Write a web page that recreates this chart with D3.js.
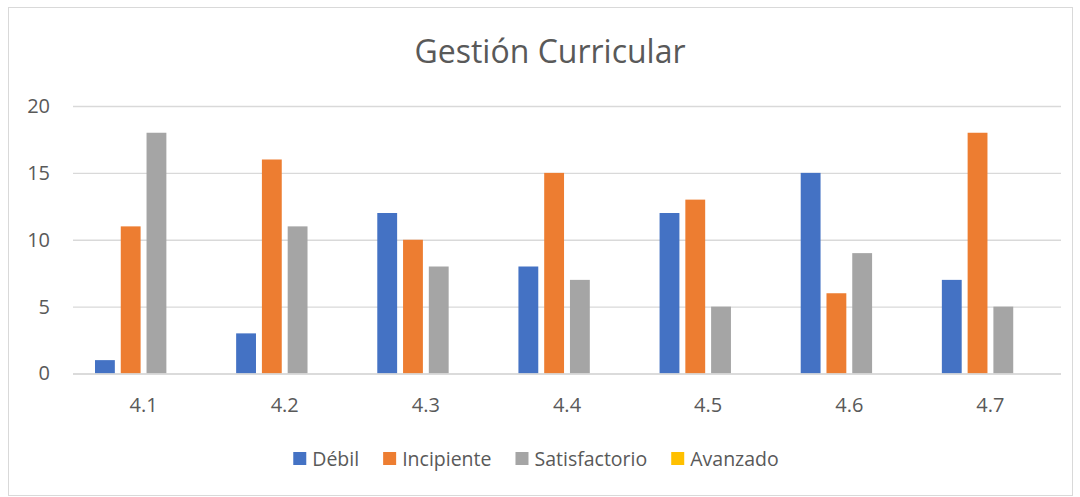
<!DOCTYPE html>
<html>
<head>
<meta charset="utf-8">
<script src="https://cdn.jsdelivr.net/npm/d3@7"></script>
<style>
  body { margin: 0; background: #fff; }
  text { font-family: "Open Sans", "Noto Sans", sans-serif; fill: #595959; }
</style>
</head>
<body>
<script>
// data
var categories = ["4.1", "4.2", "4.3", "4.4", "4.5", "4.6", "4.7"];
var seriesNames = ["Débil", "Incipiente", "Satisfactorio", "Avanzado"];
var debil = [1, 3, 12, 8, 12, 15, 7];
var incipiente = [11, 16, 10, 15, 13, 6, 18];
var satisfactorio = [18, 11, 8, 7, 5, 9, 5];
var avanzado = [0, 0, 0, 0, 0, 0, 0];
var yTicks = [0, 5, 10, 15, 20];

var seriesValues = [debil, incipiente, satisfactorio, avanzado];
var colors = ["#4472C4", "#ED7D31", "#A5A5A5", "#FFC000"];

//Width and height
var w = 1080;
var h = 497;

var svg = d3.select("body")
            .append("svg")
            .attr("width", w)
            .attr("height", h);

// chart border
svg.append("rect")
   .attr("x", 8.5).attr("y", 7.5)
   .attr("width", 1064).attr("height", 488)
   .style("fill", "none")
   .style("stroke", "#D9D9D9")
   .style("stroke-width", 1);

// title
svg.append("text")
   .attr("x", 550)
   .attr("y", 63)
   .attr("text-anchor", "middle")
   .style("font-size", "32px")
   .text("Gestión Curricular");

// scales
var x0 = d3.scaleBand()
           .domain(categories)
           .range([73, 1061])
           .paddingInner(0)
           .paddingOuter(0);

var x1 = d3.scaleBand()
           .domain(seriesNames)
           .range([22, x0.bandwidth() - 22])
           .paddingInner(0.23);

var y = d3.scaleLinear()
          .domain([0, 20])
          .range([373.5, 106]);

// gridlines + y labels
var yAxis = d3.axisLeft(y)
              .tickValues(yTicks)
              .tickSize(-(1061 - 73))
              .tickPadding(23);

var gy = svg.append("g")
            .attr("transform", "translate(73,0)")
            .call(yAxis);
gy.select(".domain").remove();
gy.selectAll(".tick line")
  .style("stroke", "#D9D9D9")
  .style("stroke-width", 1.3);
gy.selectAll(".tick text")
  .style("font-size", "20px")
  .style("fill", "#595959");

// bars
var groups = svg.selectAll("g.cat")
                .data(categories)
                .enter()
                .append("g")
                .attr("class", "cat")
                .attr("transform", function(d){ return "translate(" + x0(d) + ",0)"; });

groups.selectAll("rect")
      .data(function(d, i){
          return seriesNames.map(function(s, j){
              return {series: s, value: seriesValues[j][i], color: colors[j]};
          });
      })
      .enter()
      .append("rect")
      .attr("x", function(d){ return x1(d.series); })
      .attr("y", function(d){ return y(d.value); })
      .attr("width", x1.bandwidth())
      .attr("height", function(d){ return y(0) - y(d.value); })
      .style("fill", function(d){ return d.color; });

// x axis line on top of bars
svg.append("line")
   .attr("x1", 73).attr("x2", 1061)
   .attr("y1", 374).attr("y2", 374)
   .style("stroke", "#D9D9D9")
   .style("stroke-width", 1.3);

// x labels
var xAxis = d3.axisBottom(x0).tickSize(0).tickPadding(24);
var gx = svg.append("g")
            .attr("transform", "translate(0,374)")
            .call(xAxis);
gx.select(".domain").remove();
gx.selectAll(".tick text")
  .style("font-size", "20px")
  .style("fill", "#595959");

/* legend */
var legend = svg.append("g");
var lx = 0;
seriesNames.forEach(function(s, i){
    var item = legend.append("g").attr("transform", "translate(" + lx + ",0)");
    item.append("rect")
        .attr("x", 0).attr("y", -7)
        .attr("width", 13).attr("height", 13)
        .style("fill", colors[i]);
    var t = item.append("text")
        .attr("x", 19)
        .attr("y", 7)
        .style("font-size", "19.5px")
        .text(s);
    lx += 19 + t.node().getComputedTextLength() + 24;
});
var legendWidth = lx - 24;
legend.attr("transform", "translate(" + (536 - legendWidth / 2) + ",459)");
</script>
</body>
</html>
